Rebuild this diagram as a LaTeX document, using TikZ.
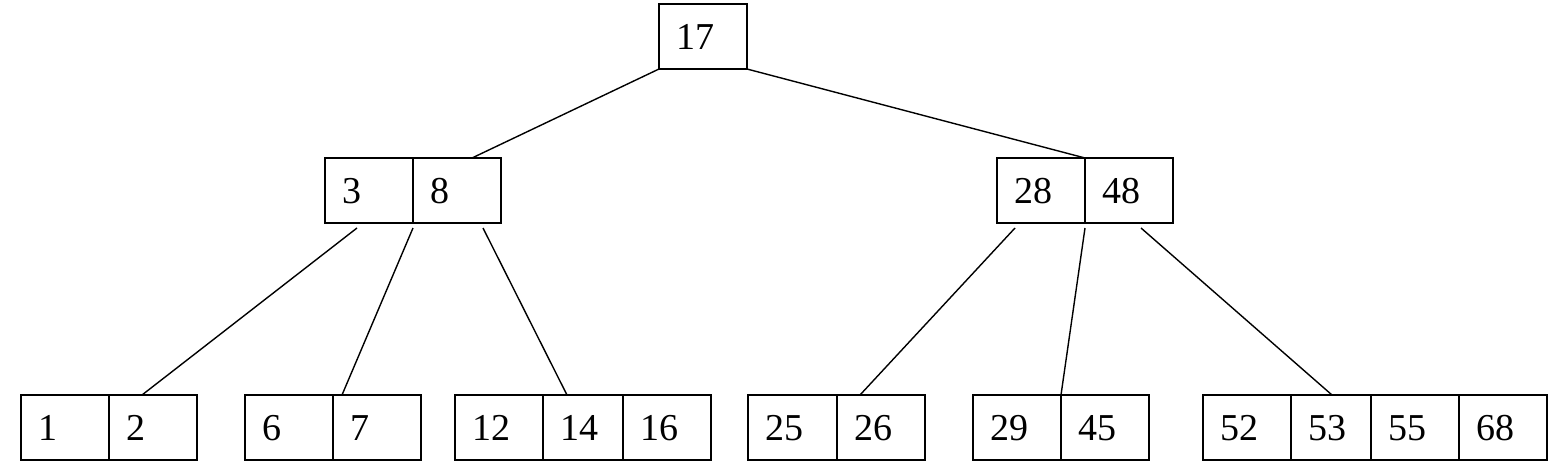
\documentclass[tikz,border=0pt]{standalone}
\usepackage{fontspec}
\setmainfont{Liberation Serif}
\usetikzlibrary{calc}
\tikzset{
  cell/.style={draw, line width=2pt, anchor=north west, outer sep=0pt,
    inner xsep=17pt, inner ysep=0pt, minimum height=65pt, align=left,
    text height=26pt, text depth=0pt,
    font=\fontsize{38}{40}\selectfont},
  link/.style={line width=1.4pt}
}
\begin{document}
\begin{tikzpicture}[x=1pt,y=-1pt]
        \useasboundingbox (0,0) rectangle (1559,474);
        % keys of each level
        \node[cell, text width=54pt] (k17) at (659,4) {17};
        \foreach \v/\x/\w [evaluate=\w as \tw using \w-34] in {3/325/88, 8/413/88, 28/997/88, 48/1085/88}
        {
                \node[cell, text width=\tw pt] (k\v) at (\x,158) {\v};
        }
        \foreach \v/\x/\w [evaluate=\w as \tw using \w-34] in {1/21/88, 2/109/88, 6/245/88, 7/333/88, 12/455/88, 14/543/80, 16/623/88, 25/748/89, 26/837/88, 29/973/88, 45/1061/88, 52/1203/88, 53/1291/80, 55/1371/88, 68/1459/88}
        {
                \node[cell, text width=\tw pt] (k\v) at (\x,395) {\v};
        }
        % links
        \draw[link] (k17.south west) -- ($(k8.north west)+(59,0)$);
        \draw[link] (k17.south east) -- (k48.north west);
        \draw[link] ($(k3.south west)+(32,5)$) -- ($(k2.north west)+(33,0)$);
        \draw[link] ($(k8.south west)+(0,5)$) -- ($(k7.north west)+(9,0)$);
        \draw[link] ($(k8.south west)+(70,5)$) -- ($(k14.north west)+(24,0)$);
        \draw[link] ($(k28.south west)+(18,5)$) -- ($(k26.north west)+(23,0)$);
        \draw[link] ($(k48.south west)+(0,5)$) -- (k45.north west);
        \draw[link] ($(k48.south west)+(56,5)$) -- ($(k53.north west)+(41,0)$);
    \end{tikzpicture}
\end{document}
